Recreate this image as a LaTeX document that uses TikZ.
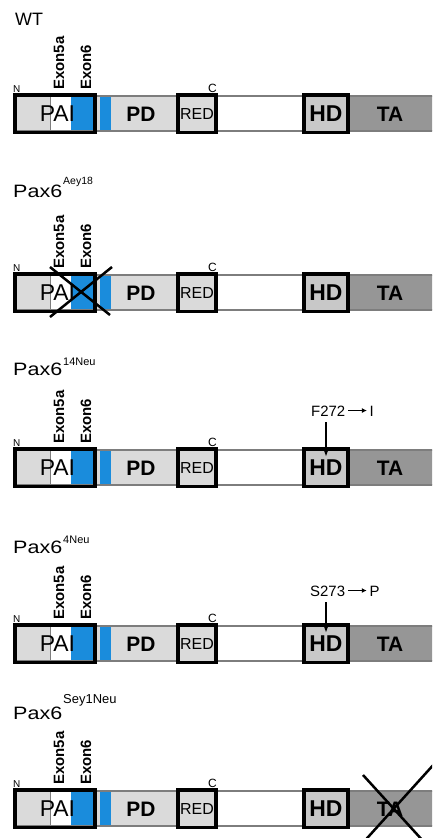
\documentclass[tikz,border=0pt]{standalone}
\usepackage{fontspec}
\usepackage{graphicx}
\setmainfont{Liberation Sans}
\usetikzlibrary{arrows.meta,calc}
\definecolor{lgray}{RGB}{218,218,218}
\definecolor{hdgray}{RGB}{200,200,200}
\definecolor{tagray}{RGB}{150,150,150}
\definecolor{pblue}{RGB}{26,140,220}
\definecolor{barline}{RGB}{125,125,125}

\newcommand{\fs}[1]{\fontsize{#1}{#1}\selectfont}
\newcommand{\mutarrow}{\tikz[baseline=-5.5pt]\draw[line width=1.5pt,-{Latex[length=5pt,width=5pt]}] (0pt,0pt) -- (19pt,0pt);}

\tikzset{
 thickbox/.style={draw=black, line width=3.8bp, minimum height=37.5bp, inner sep=0pt, outer sep=0pt},
 bartxt/.style={inner sep=0pt, font=\fs{21}\bfseries},
 exonlbl/.style={rotate=90, anchor=base west, inner sep=0pt, font=\fs{15}\bfseries},
 titlelbl/.style={anchor=base west, inner sep=0pt, font=\fs{18}},
 mutlbl/.style={anchor=base west, inner sep=0pt, font=\fs{15}},
 mutline/.style={line width=2bp, -{Latex[length=10bp,width=8bp]}},
 crossline/.style={line width=2.5bp, black},
}

\newcommand{\paxrow}[2]{%
 \fill[white] (15,#1+3) rectangle (445,#1+38);
 \fill[lgray] (15,#1+3) rectangle (50,#1+38);
 \fill[pblue] (71,#1+3) rectangle (97,#1+38);
 \fill[lgray] (97,#1+3) rectangle (100,#1+38);
 \fill[pblue] (100,#1+3) rectangle (111,#1+38);
 \fill[lgray] (111,#1+3) rectangle (178,#1+38);
 \fill[tagray] (348,#1+3) rectangle (445,#1+38);
 \draw[barline, line width=1.3bp] (15,#1+3) rectangle (445,#1+38);
 \draw[barline, line width=1bp] (50,#1+3) -- (50,#1+38);
 \node[thickbox, minimum width=80bp] (pai#2) at (55,#1+20.75) {\hspace*{5pt}\fs{23}PAI};
 \node[thickbox, fill=lgray, minimum width=38bp] (red#2) at (197,#1+20.75) {\fs{16}RED};
 \node[thickbox, fill=hdgray, minimum width=44bp] (hd#2) at (326,#1+20.75) {\fs{23}\bfseries HD};
 \node[bartxt] (pd#2) at (141,#1+21) {PD};
 \node[bartxt] (ta#2) at (390,#1+21) {TA};
 \node[inner sep=0pt, anchor=base west, font=\fs{10}] (n#2) at (13,#1-1) {N};
 \node[inner sep=0pt, anchor=base east, font=\fs{12}] (c#2) at (217,#1-1) {C};
 \node[exonlbl] (ea#2) at (64,#1-3) {Exon5a};
 \node[exonlbl] (eb#2) at (91,#1-3) {Exon6};
}

\begin{document}
\begin{tikzpicture}[x=1bp,y=-1bp]
\clip (0,0) rectangle (432,838);
\fill[white] (0,0) rectangle (432,838);

% titles
\node[titlelbl] (wt) at (15,25) {WT};
\node[titlelbl] (t2) at (13,197) {\scalebox{1.2}[1]{Pax6}\hspace{1pt}\raisebox{13pt}{\fs{10.5}Aey18}};
\node[titlelbl] (t3) at (13,375) {\scalebox{1.2}[1]{Pax6}\hspace{1pt}\raisebox{10pt}{\fs{11}14Neu}};
\node[titlelbl] (t4) at (13,553) {\scalebox{1.2}[1]{Pax6}\hspace{1pt}\raisebox{10pt}{\fs{11}4Neu}};
\node[titlelbl] (t5) at (13,719) {\scalebox{1.2}[1]{Pax6}\hspace{1pt}\raisebox{16pt}{\fs{13}Sey1Neu}};

% rows
\paxrow{93}{1}
\paxrow{272}{2}
\paxrow{447}{3}
\paxrow{623}{4}
\paxrow{788}{5}

% Aey18 deletion cross
\draw[crossline] (50,267) -- (110,315);
\draw[crossline] (112,267) -- (50,317);

% point mutations
\node[mutlbl] (m3) at (311,416) {F272\hspace{2pt}\mutarrow\hspace{2pt}I};
\draw[mutline] ($(m3.south -| hd3.north)+(0,6)$) -- ($(hd3.north)+(0,8)$);
\node[mutlbl] (m4) at (310,596) {S273\hspace{2pt}\mutarrow\hspace{2pt}P};
\draw[mutline] ($(m4.south -| hd4.north)+(0,6)$) -- ($(hd4.north)+(0,8)$);

% Sey1Neu truncation cross
\draw[crossline] (363,775) -- (445,865);
\draw[crossline] (360,846) -- (445,752);
\end{tikzpicture}
\end{document}
